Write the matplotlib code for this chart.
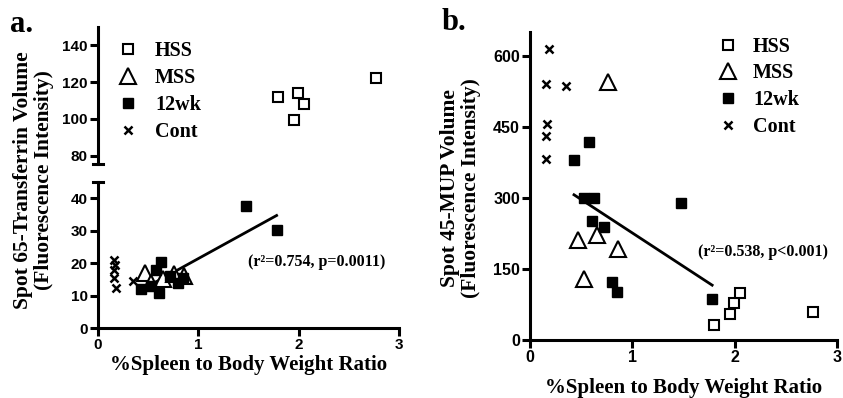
import numpy as np
import matplotlib
matplotlib.use("Agg")
import matplotlib.pyplot as plt
from matplotlib.lines import Line2D

# ---------------- data ----------------
groups = ["HSS", "MSS", "12wk", "Cont"]

# Panel a: Spot 65-Transferrin
a_hss_x = [1.79, 1.99, 2.05, 1.95, 2.77]
a_hss_y = [112, 114, 108, 99.5, 122]
a_mss_x = [0.47, 0.53, 0.65, 0.76, 0.86]
a_mss_y = [16.8, 14.0, 15.0, 16.5, 16.0]
a_wk_x = [0.43, 0.58, 0.53, 0.63, 0.61, 0.72, 0.80, 0.85, 1.48, 1.78]
a_wk_y = [12.0, 17.8, 13.0, 20.2, 10.7, 16.0, 14.0, 15.5, 37.5, 30.2]
a_ct_x = [0.16, 0.17, 0.16, 0.16, 0.18, 0.35]
a_ct_y = [20.9, 19.3, 18.0, 15.4, 12.3, 14.5]

# Panel b: Spot 45-MUP
b_hss_x = [1.80, 1.95, 1.99, 2.05, 2.77]
b_hss_y = [32, 54, 79, 100, 59]
b_mss_x = [0.47, 0.53, 0.65, 0.86, 0.76]
b_mss_y = [211, 128, 222, 192, 545]
b_wk_x = [0.43, 0.58, 0.53, 0.63, 0.61, 0.72, 0.80, 0.85, 1.48, 1.78]
b_wk_y = [379, 417, 299, 299, 252, 239, 122, 101, 289, 87]
b_ct_x = [0.19, 0.16, 0.35, 0.17, 0.16, 0.16]
b_ct_y = [615, 540, 535, 456, 430, 382]

a_stats = "(r\u00b2=0.754, p=0.0011)"
b_stats = "(r\u00b2=0.538, p<0.001)"
xlabel = "%Spleen to Body Weight Ratio"
a_ylabel = "Spot 65-Transferrin Volume\n(Fluorescence Intensity)"
b_ylabel = "Spot 45-MUP Volume\n(Fluorescence Intensity)"

SERIF = "Liberation Serif"
SANS = "Liberation Sans"
LW = 2.2

styles = {
    "HSS": dict(marker="s", ms=7.5, mfc="white", mec="black", mew=1.5, ls="none"),
    "MSS": dict(marker="^", ms=11, mfc="white", mec="black", mew=1.5, ls="none"),
    "12wk": dict(marker="s", ms=7, mfc="black", mec="black", mew=1, ls="none"),
    "Cont": dict(marker="x", ms=6, mec="black", mew=1.8, ls="none"),
}

W, H = 843, 398
fig = plt.figure(figsize=(W / 100, H / 100), dpi=100)


def px_rect(left, right, top, bottom):
    return [left / W, (H - bottom) / H, (right - left) / W, (bottom - top) / H]


def style_axis(ax, tick_size):
    for s in ["top", "right"]:
        ax.spines[s].set_visible(False)
    for s in ["left", "bottom"]:
        ax.spines[s].set_linewidth(LW)
    ax.tick_params(direction="out", length=5.8, width=LW, labelsize=tick_size, pad=1.5)
    for lab in ax.get_xticklabels() + ax.get_yticklabels():
        lab.set_fontfamily(SANS)
        lab.set_fontweight("bold")


def draw_series(ax, data):
    for g, (xs, ys) in zip(groups, data):
        ax.plot(xs, ys, label=g, zorder=3, **styles[g])


def fit_line(ax, xs, ys):
    xs = np.asarray(xs)
    ys = np.asarray(ys)
    m, c = np.polyfit(xs, ys, 1)
    xx = np.array([xs.min(), xs.max()])
    ax.plot(xx, m * xx + c, color="black", lw=2.0, zorder=2)


leg_prop = dict(family=SERIF, weight="bold", size=14.5)

# ---------------- panel a (broken axis) ----------------
ax_up = fig.add_axes(px_rect(98, 399, 27, 164))
ax_lo = fig.add_axes(px_rect(98, 399, 182, 328))
data_a = [(a_hss_x, a_hss_y), (a_mss_x, a_mss_y), (a_wk_x, a_wk_y), (a_ct_x, a_ct_y)]
for ax in (ax_up, ax_lo):
    draw_series(ax, data_a)
    ax.set_xlim(0, 3)
fit_line(ax_lo, a_wk_x, a_wk_y)
ax_up.set_ylim(75.5, 150)
ax_up.set_yticks([80, 100, 120, 140])
ax_lo.set_ylim(0, 45)
ax_lo.set_yticks([0, 10, 20, 30, 40])
ax_lo.set_xticks([0, 1, 2, 3])
style_axis(ax_up, 11)
style_axis(ax_lo, 11)
ax_up.spines["bottom"].set_visible(False)
ax_up.tick_params(axis="x", bottom=False, labelbottom=False)
# break caps
for ax, yy in ((ax_up, 0.0), (ax_lo, 1.0)):
    ax.add_line(Line2D([-0.017, 0.017], [yy, yy], transform=ax.transAxes,
                       color="black", lw=LW, clip_on=False))

ax_lo.text(1.5, 20.3, a_stats, fontfamily=SERIF, fontweight="bold", fontsize=11.5,
           ha="left", va="center")
ax_lo.set_xlabel(xlabel, fontfamily=SERIF, fontweight="bold", fontsize=15, labelpad=2)
fig.text(33.5 / W, 1 - 180 / H, a_ylabel, rotation=90, ha="center", va="center",
         fontfamily=SERIF, fontweight="bold", fontsize=15.5, linespacing=1.05)
ax_up.legend(loc="upper left", bbox_to_anchor=(0.066, 0.90), frameon=False,
             prop=leg_prop, handletextpad=0.85, labelspacing=0.36, handlelength=1.0,
             borderaxespad=0, borderpad=0)
fig.text(10 / W, 1 - 24 / H, "a.", fontfamily=SERIF, fontweight="bold", fontsize=22,
         ha="left", va="center")

# ---------------- panel b ----------------
ax_b = fig.add_axes(px_rect(530, 837, 32, 340))
data_b = [(b_hss_x, b_hss_y), (b_mss_x, b_mss_y), (b_wk_x, b_wk_y), (b_ct_x, b_ct_y)]
draw_series(ax_b, data_b)
fit_line(ax_b, b_wk_x, b_wk_y)
ax_b.set_xlim(0, 3)
ax_b.set_ylim(0, 650)
ax_b.set_xticks([0, 1, 2, 3])
ax_b.set_yticks([0, 150, 300, 450, 600])
style_axis(ax_b, 11.5)
ax_b.text(1.64, 186, b_stats, fontfamily=SERIF, fontweight="bold", fontsize=11.5,
          ha="left", va="center")
ax_b.set_xlabel(xlabel, fontfamily=SERIF, fontweight="bold", fontsize=15, labelpad=9)
fig.text(460.5 / W, 1 - 188 / H, b_ylabel, rotation=90, ha="center", va="center",
         fontfamily=SERIF, fontweight="bold", fontsize=15.5, linespacing=1.12)
ax_b.legend(loc="upper left", bbox_to_anchor=(0.612, 0.985), frameon=False,
            prop=leg_prop, handletextpad=0.75, labelspacing=0.34, handlelength=1.0,
            borderaxespad=0, borderpad=0)
fig.text(442 / W, 1 - 22 / H, "b.", fontfamily=SERIF, fontweight="bold", fontsize=22,
         ha="left", va="center")

fig.savefig("out.png", dpi=100)
